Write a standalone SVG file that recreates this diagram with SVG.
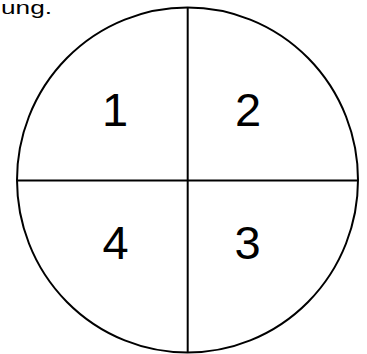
<svg xmlns="http://www.w3.org/2000/svg" width="367" height="354" viewBox="0 0 367 354">
<style>
.ln{stroke:#000;stroke-width:2;fill:none}
.num{font-family:"Liberation Sans",Arial,sans-serif;font-size:47px;fill:#000;text-anchor:middle}
.cap{font-family:"Liberation Sans",Arial,sans-serif;font-size:19px;fill:#000}
</style>
<rect width="367" height="354" fill="#fff"/>
<text class="cap" x="1" y="14" textLength="51" lengthAdjust="spacingAndGlyphs">ung.</text>
<g id="circle">
<ellipse class="ln" cx="187.5" cy="180" rx="170.5" ry="172.5"/>
</g>
<g id="connectors">
<line class="ln" x1="187.7" y1="7.5" x2="187.7" y2="352.5"/>
<line class="ln" x1="17" y1="180.5" x2="358" y2="180.5"/>
</g>
<g id="q1"><text class="num" x="115" y="125.7">1</text></g>
<g id="q2"><text class="num" x="248" y="125.7">2</text></g>
<g id="q4"><text class="num" x="115.5" y="259">4</text></g>
<g id="q3"><text class="num" x="247.5" y="259">3</text></g>
</svg>
